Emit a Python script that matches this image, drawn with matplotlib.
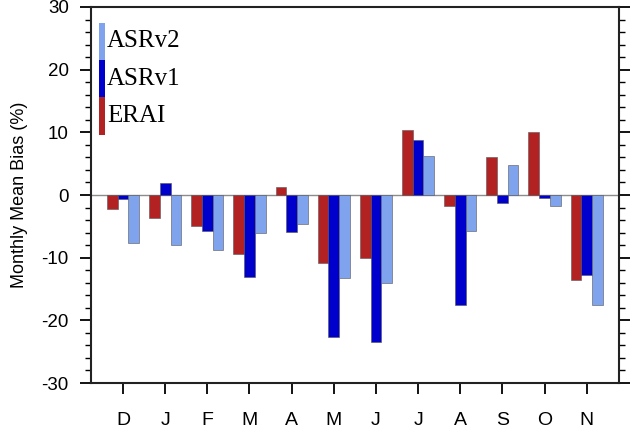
"""
Monthly mean bias of ERAI, ASRv1 and ASRv2 as grouped bars, Dec through Nov.
"""

import numpy as np
import matplotlib
matplotlib.use("Agg")
import matplotlib.pyplot as plt
from matplotlib.ticker import MultipleLocator

months = ["D", "J", "F", "M", "A", "M", "J", "J", "A", "S", "O", "N"]

erai = [-2.3, -3.6, -5.0, -9.4, 1.2, -10.8, -10.1, 10.4, -1.7, 6.0, 10.0, -13.5]
asrv1 = [-0.6, 1.9, -5.8, -13.1, -5.9, -22.6, -23.5, 8.7, -17.6, -1.2, -0.45, -12.75]
asrv2 = [-7.6, -8.0, -8.7, -6.1, -4.7, -13.3, -14.0, 6.3, -5.8, 4.8, -1.75, -17.6]

series = [
    ("ERAI", erai, "#B22222"),
    ("ASRv1", asrv1, "#0000CD"),
    ("ASRv2", asrv2, "#7FA3EC"),
]

plt.rcParams.update({
    "font.family": ["Liberation Sans", "DejaVu Sans"],
    "font.size": 12,
})

fig = plt.figure(figsize=(6.32, 4.32), dpi=100)
ax = fig.add_axes([0.144, 0.1134, 0.835, 0.8704])

x = np.arange(len(months))
width = 0.254
for i, (name, vals, color) in enumerate(series):
    ax.bar(x + (i - 1) * width, vals, width=width, color=color,
           edgecolor="#555555", linewidth=0.4, zorder=2)

ax.axhline(0, color="#8c8c8c", linewidth=1.0, zorder=1)

ax.set_xlim(-0.76, 11.76)
ax.set_ylim(-30, 30)
ax.set_xticks(x)
ax.set_xticklabels(months, fontsize=14)
ax.yaxis.set_major_locator(MultipleLocator(10))
ax.yaxis.set_minor_locator(MultipleLocator(2))
ax.set_yticklabels([f"{int(v)}" for v in ax.get_yticks()], fontsize=13.5)

ax.tick_params(axis="x", which="major", direction="out", length=8, width=1.3,
               pad=13, top=False)
ax.tick_params(axis="y", which="major", direction="out", length=8, width=1.3,
               right=True, pad=8)
ax.tick_params(axis="y", which="minor", direction="out", length=4.5, width=1.0,
               right=True)
for sp in ax.spines.values():
    sp.set_linewidth(1.5)
    sp.set_color("#222222")

ax.set_ylabel("Monthly Mean Bias (%)", fontsize=13, labelpad=10)

# stacked colour-key in the upper left corner
key_x = -0.50
key_w = 0.14
seg_h = 5.95
top = 27.5
for j, (name, vals, color) in enumerate(series[::-1]):
    y0 = top - (j + 1) * seg_h
    ax.bar(key_x, seg_h, bottom=y0, width=key_w, color=color,
           linewidth=0, zorder=3)
    ax.text(key_x + 0.12, y0 + seg_h / 2, name, fontsize=18,
            family=["Liberation Serif", "DejaVu Serif"],
            ha="left", va="center", zorder=3)

fig.savefig("out.png", dpi=100)
